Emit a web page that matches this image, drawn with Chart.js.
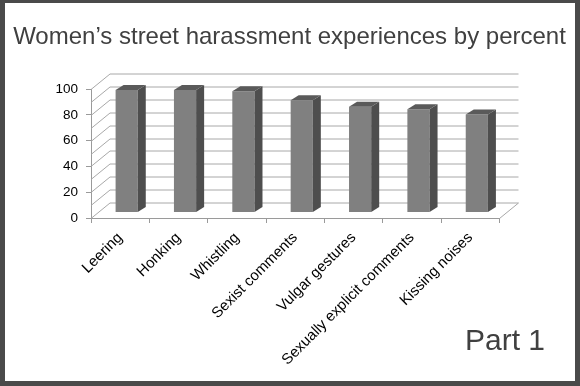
<!DOCTYPE html>
<html>
<head>
<meta charset="utf-8">
<script src="https://cdn.jsdelivr.net/npm/chart.js@4.4.1/dist/chart.umd.min.js"></script>
<style>
  html, body { margin: 0; padding: 0; background: #fff; }
  .frame {
    width: 570px; height: 378px;
    border-style: solid; border-color: #4a4a4a;
    border-width: 3px 5px 5px 5px;
  }
  canvas { display: block; }
</style>
</head>
<body>
<div class="frame"><canvas id="chart" width="570" height="378"></canvas></div>
<script>
const categories = ['Leering', 'Honking', 'Whistling', 'Sexist comments', 'Vulgar gestures', 'Sexually explicit comments', 'Kissing noises'];
const percents = [95, 95, 94, 87, 82, 80, 76];
const yTickValues = [0, 20, 40, 60, 80, 100];
const wallLines = [0, 10, 20, 30, 40, 50, 60, 70, 80, 90, 100];

const TITLE = 'Women\u2019s street harassment experiences by percent';
const NOTE = 'Part 1';
const FONT = "'Liberation Sans', Arial, sans-serif";

// depth offsets for the fake 3D look
const WALL = { dx: 19, dy: -15.5 };
const BAR = { shiftX: 6.5, shiftY: -5.5, depthX: 8, depthY: -5 };
const gridColor = '#a8a8a8';
const axisColor = '#9a9a9a';

const walls3d = {
  id: 'walls3d',
  beforeDatasetsDraw(chart) {
    const { ctx, chartArea: a, scales: { y } } = chart;
    ctx.save();
    ctx.strokeStyle = gridColor;
    ctx.lineWidth = 1;
    ctx.beginPath();
    wallLines.forEach(v => {
      const py = Math.round(y.getPixelForValue(v)) + 0.5;
      ctx.moveTo(a.left, py);
      ctx.lineTo(a.left + WALL.dx, py + WALL.dy);
      ctx.lineTo(a.right + WALL.dx, py + WALL.dy);
    });
    const pb = Math.round(a.bottom) + 0.5;
    ctx.moveTo(a.right, pb);
    ctx.lineTo(a.right + WALL.dx, pb + WALL.dy);
    ctx.stroke();
    ctx.restore();

    // bars sit a little behind the front axis plane
    ctx.save();
    ctx.translate(BAR.shiftX, BAR.shiftY);
  },
  afterDatasetsDraw(chart) {
    const ctx = chart.ctx;
    chart.getDatasetMeta(0).data.forEach(bar => {
      const { x, y, base, width } = bar.getProps(['x', 'y', 'base', 'width'], true);
      const l = x - width / 2, r = x + width / 2;
      ctx.fillStyle = '#4e4e4e';
      ctx.beginPath();
      ctx.moveTo(r, y);
      ctx.lineTo(r + BAR.depthX, y + BAR.depthY);
      ctx.lineTo(r + BAR.depthX, base + BAR.depthY);
      ctx.lineTo(r, base);
      ctx.closePath();
      ctx.fill();

      ctx.fillStyle = '#5a5a5a';
      ctx.beginPath();
      ctx.moveTo(l, y);
      ctx.lineTo(l + BAR.depthX, y + BAR.depthY);
      ctx.lineTo(r + BAR.depthX, y + BAR.depthY);
      ctx.lineTo(r, y);
      ctx.closePath();
      ctx.fill();
    });
    ctx.restore();
  }
};

const captions = {
  id: 'captions',
  afterDraw(chart) {
    const ctx = chart.ctx;
    ctx.save();
    ctx.fillStyle = '#404040';
    ctx.textBaseline = 'alphabetic';
    ctx.textAlign = 'center';
    ctx.font = '24px ' + FONT;
    ctx.fillText(TITLE, 284.5, 40.5);
    ctx.textAlign = 'left';
    ctx.font = '30px ' + FONT;
    ctx.fillText(NOTE, 460, 347);
    ctx.restore();
  }
};

new Chart(document.getElementById('chart'), {
  type: 'bar',
  data: {
    labels: categories,
    datasets: [{
      data: percents,
      backgroundColor: '#808080',
      borderWidth: 0,
      categoryPercentage: 1,
      barPercentage: 0.38,
      clip: false
    }]
  },
  options: {
    responsive: false,
    devicePixelRatio: 1,
    animation: false,
    layout: { padding: { top: 86, right: 75.5, left: 10, bottom: 0 } },
    plugins: {
      legend: { display: false },
      tooltip: { enabled: false }
    },
    scales: {
      x: {
        offset: true,
        grid: { drawOnChartArea: false, tickLength: 5, color: axisColor, offset: true },
        border: { display: true, color: axisColor },
        ticks: {
          color: '#000',
          font: { family: FONT, size: 15 },
          minRotation: 45,
          maxRotation: 45,
          autoSkip: false,
          padding: 6
        },
        afterFit(s) { s.height = 163; }
      },
      y: {
        min: 0,
        max: 100,
        grid: { drawOnChartArea: false, tickLength: 5, color: axisColor },
        border: { display: true, color: axisColor },
        ticks: {
          color: '#000',
          font: { family: FONT, size: 13.5 },
          padding: 8
        },
        afterBuildTicks(s) { s.ticks = yTickValues.map(v => ({ value: v })); },
        afterFit(s) { s.width = 76; }
      }
    }
  },
  plugins: [walls3d, captions]
});
</script>
</body>
</html>
